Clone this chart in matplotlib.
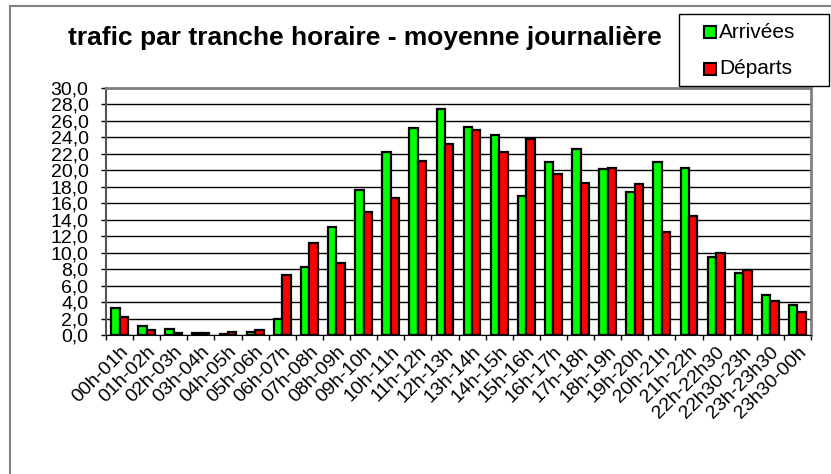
import matplotlib
matplotlib.use("Agg")
import matplotlib.pyplot as plt
import numpy as np
from matplotlib.lines import Line2D
from matplotlib.patches import Rectangle

plt.rcParams['font.family'] = ['Liberation Sans', 'DejaVu Sans']

# données
tranches = ["00h-01h", "01h-02h", "02h-03h", "03h-04h", "04h-05h", "05h-06h",
            "06h-07h", "07h-08h", "08h-09h", "09h-10h", "10h-11h", "11h-12h",
            "12h-13h", "13h-14h", "14h-15h", "15h-16h", "16h-17h", "17h-18h",
            "18h-19h", "19h-20h", "20h-21h", "21h-22h", "22h-22h30", "22h30-23h",
            "23h-23h30", "23h30-00h"]
arrivees = [3.3, 1.1, 0.7, 0.25, 0.15, 0.4, 1.9, 8.2, 13.1, 17.6, 22.2, 25.1,
            27.4, 25.3, 24.3, 16.9, 21.0, 22.6, 20.2, 17.4, 21.0, 20.3, 9.5,
            7.5, 4.9, 3.7]
departs = [2.2, 0.6, 0.25, 0.2, 0.35, 0.55, 7.3, 11.2, 8.8, 15.0, 16.7, 21.1,
           23.2, 24.9, 22.2, 23.8, 19.6, 18.5, 20.3, 18.3, 12.5, 14.4, 9.9,
           7.9, 4.1, 2.8]
series = ['Arrivées', 'Départs']
couleurs = ['#00ff00', '#ff0000']

W, H = 831, 474
fig = plt.figure(figsize=(W / 100, H / 100), dpi=100)
ax = fig.add_axes([106/W, 1 - 335/H, (811 - 106)/W, (335 - 88)/H])

x = np.arange(len(tranches))
w = 0.31
ax.bar(x - w/2, arrivees, w, color=couleurs[0], edgecolor='black', linewidth=1.6, zorder=3)
ax.bar(x + w/2, departs, w, color=couleurs[1], edgecolor='black', linewidth=1.6, zorder=3)

ax.set_xlim(-0.5, len(tranches) - 0.5)
ax.set_ylim(0, 30)
yt = np.arange(0, 31, 2)
ax.set_yticks(yt)
ax.set_yticklabels([f"{v:.1f}".replace('.', ',') for v in yt], fontsize=14)
ax.yaxis.grid(True, color='black', linewidth=1)
ax.set_axisbelow(True)

ax.set_xticks(x)
ax.set_xticklabels(tranches, rotation=45, ha='right', rotation_mode='anchor',
                   fontsize=14)
ax.tick_params(axis='x', which='major', length=0, pad=6)
ax.set_xticks(np.arange(-0.5, len(tranches), 1), minor=True)
ax.tick_params(axis='x', which='minor', length=3.6, width=1, direction='out')
ax.tick_params(axis='y', length=3.6, width=1, direction='out', pad=9)

for side in ['top', 'right']:
    ax.spines[side].set_color('#808080')
    ax.spines[side].set_linewidth(2)
ax.spines['left'].set_color('#555555')
ax.spines['left'].set_linewidth(1.5)
ax.spines['bottom'].set_color('black')

fig.text(365/W, 1 - 38/H, "trafic par tranche horaire - moyenne journalière",
         ha='center', va='center', fontsize=19, fontweight='bold')

# légende dessinée à la main
fig.add_artist(Rectangle((679/W, 1 - 86/H), 150/W, 72/H, transform=fig.transFigure,
                         facecolor='white', edgecolor='black', linewidth=1, zorder=5))
for i, (nom, c) in enumerate(zip(series, couleurs)):
    yc = 32 + i * 37
    fig.add_artist(Rectangle((704/W, 1 - (yc + 6)/H), 12/W, 12/H,
                             transform=fig.transFigure, facecolor=c,
                             edgecolor='black', linewidth=1.5, zorder=6))
    fig.text(719/W, 1 - yc/H, nom, ha='left', va='center', fontsize=15, zorder=6)

# cadre du graphique
fig.add_artist(Line2D([10/W, 10/W], [0, 1 - 6/H], color='#808080', linewidth=1.5))
fig.add_artist(Line2D([10/W, 1], [1 - 6/H, 1 - 6/H], color='#808080', linewidth=1.5))

fig.savefig("out.png", dpi=100)
